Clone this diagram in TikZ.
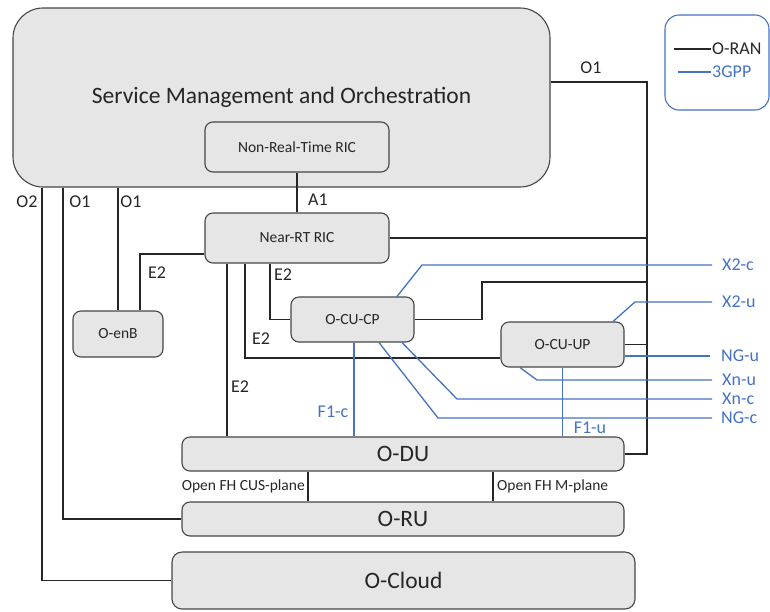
\documentclass[tikz,border=0pt]{standalone}
\usepackage{fontspec}
\setmainfont{Carlito}
\usetikzlibrary{positioning, calc}
\definecolor{boxgray}{RGB}{230, 230, 230}
\definecolor{edgegray}{RGB}{70, 70, 70}
\definecolor{gppblue}{RGB}{68, 114, 196}
\definecolor{textgray}{RGB}{38, 38, 38}

\tikzset{
  unit/.style={draw=edgegray, fill=boxgray, line width=1.1pt, rounded corners=8pt, text=textgray, inner sep=0pt, font=\fontsize{15.5}{18}\selectfont},
  bigunit/.style={unit, font=\fontsize{23.5}{28}\selectfont},
  oran/.style={draw=black!85, line width=1.7pt},
  gpp/.style={draw=gppblue, line width=1.3pt},
  ifname/.style={text=textgray, inner sep=1pt, font=\fontsize{18}{21}\selectfont},
  gppname/.style={ifname, text=gppblue},
  fhname/.style={ifname, font=\fontsize{15.5}{18}\selectfont},
}

\begin{document}
\begin{tikzpicture}[x=1pt, y=-1pt]
  \useasboundingbox (0,0) rectangle (770,611);

  % SMO with the non-RT RIC inside
  \node[bigunit, rounded corners=30pt, minimum width=537pt, minimum height=179pt] (smo) at (281.5,97.5) {Service Management and Orchestration};
  \node[unit, minimum width=184pt, minimum height=50pt] (nonrt) at (297,147) {Non-Real-Time RIC};

  % RAN nodes
  \node[unit, minimum width=184pt, minimum height=50pt] (nearrt) at (297,238) {Near-RT RIC};
  \node[unit, minimum width=90pt, minimum height=46pt] (oenb) at (118,334) {O-enB};
  \node[unit, minimum width=123pt, minimum height=45pt] (cucp) at (352.5,319.5) {O-CU-CP};
  \node[unit, minimum width=123pt, minimum height=45pt] (cuup) at (562.5,344.5) {O-CU-UP};
  \node[bigunit, minimum width=442pt, minimum height=34pt] (odu) at (403,454) {O-DU};
  \node[bigunit, minimum width=442pt, minimum height=34pt] (oru) at (403,519) {O-RU};
  \node[bigunit, rounded corners=10pt, minimum width=463pt, minimum height=57pt] (ocloud) at (403.5,580.5) {O-Cloud};

  % Legend
  \node[draw=gppblue, line width=1.1pt, rounded corners=14pt, minimum width=104pt, minimum height=95pt] (legend) at (717,62.5) {};
  \node[ifname, anchor=west] (lgoran) at (711,49) {O-RAN};
  \node[gppname, anchor=west] (lg3gpp) at (711,72) {3GPP};
  \draw[oran] (lgoran.west) -- ++(-37,0);
  \draw[gpp] (lg3gpp.west) -- ++(-33,0);

  % O1 bus on the right
  \coordinate (bus) at (647,82);
  \draw[oran] (smo.east |- bus) -- (bus) |- (odu.east);
  \draw[oran] (nearrt.east) -- (nearrt.east -| bus);
  \coordinate (cpbend) at (482,282);
  \draw[oran] (cucp.east) -| (cpbend) -- (cpbend -| bus);
  \draw[oran] (cuup.east) -- (cuup.east -| bus);
  \node[ifname] (lo1r) at (591,68) {O1};

  % A1
  \draw[oran] (nonrt.south) -- (nearrt.north);
  \node[ifname] (la1) at (318,200) {A1};

  % O1 / O2 on the left
  \coordinate (o2) at (42,0);
  \coordinate (o1a) at (63,0);
  \draw[oran] (smo.south -| o2) |- (ocloud.west);
  \draw[oran] (smo.south -| o1a) |- (oru.west);
  \draw[oran] (smo.south -| oenb.north) -- (oenb.north);
  \node[ifname] (lo2) at (27,202) {O2};
  \node[ifname] (lo1a) at (80,202) {O1};
  \node[ifname] (lo1b) at (131,202) {O1};

  % E2
  \coordinate (e2b) at (140,254);
  \draw[oran] (nearrt.west |- e2b) -| (oenb.north -| e2b);
  \coordinate (e2du) at (227,0);
  \draw[oran] (nearrt.south -| e2du) -- (odu.north -| e2du);
  \coordinate (e2up) at (245,358);
  \draw[oran] (nearrt.south -| e2up) |- (cuup.west |- e2up);
  \coordinate (e2cp) at (270,0);
  \draw[oran] (nearrt.south -| e2cp) |- (cucp.west);
  \node[ifname] (le2b) at (157,273) {E2};
  \node[ifname] (le2cp) at (283,275) {E2};
  \node[ifname] (le2up) at (261,339) {E2};
  \node[ifname] (le2du) at (240,387) {E2};

  % Open fronthaul
  \coordinate (fhcus) at (308,0);
  \coordinate (fhm) at (493,0);
  \draw[oran] (odu.south -| fhcus) -- (oru.north -| fhcus);
  \draw[oran] (odu.south -| fhm) -- (oru.north -| fhm);
  \node[fhname, anchor=east] (lfhcus) at (306,486) {Open FH CUS-plane};
  \node[fhname, anchor=west] (lfhm) at (496,486) {Open FH M-plane};

  % F1
  \coordinate (f1c) at (354,0);
  \draw[gpp] (cucp.south -| f1c) -- (odu.north -| f1c);
  \draw[gpp] (cuup.south) -- (odu.north -| cuup.south);
  \node[gppname] (lf1c) at (333,412) {F1-c};
  \node[gppname] (lf1u) at (590,428) {F1-u};

  % 3GPP interfaces to the right
  \node[gppname, anchor=west] (lx2c) at (721,265) {X2-c};
  \node[gppname, anchor=west] (lx2u) at (721,302) {X2-u};
  \node[gppname, anchor=west] (lngu) at (720,356) {NG-u};
  \node[gppname, anchor=west] (lxnu) at (721,380) {Xn-u};
  \node[gppname, anchor=west] (lxnc) at (721,399) {Xn-c};
  \node[gppname, anchor=west] (lngc) at (720,418) {NG-c};
  \coordinate (x2cbend) at (422,0);
  \coordinate (x2ubend) at (635,0);
  \coordinate (xnubend) at (537,0);
  \coordinate (xncbend) at (457,0);
  \coordinate (ngcbend) at (438,0);
  \draw[gpp] ([xshift=44.5pt]cucp.north) -- (x2cbend |- lx2c.west) -- ([xshift=-9pt]lx2c.west);
  \draw[gpp] ([xshift=50.5pt]cuup.north) -- (x2ubend |- lx2u.west) -- ([xshift=-9pt]lx2u.west);
  \draw[gpp] (cuup.east |- lngu.west) -- ([xshift=-10pt]lngu.west);
  \draw[gpp] ([xshift=-42.5pt]cuup.south) -- (xnubend |- lxnu.west) -- ([xshift=-9pt]lxnu.west);
  \draw[gpp] ([xshift=49.5pt]cucp.south) -- (xncbend |- lxnc.west) -- ([xshift=-9pt]lxnc.west);
  \draw[gpp] ([xshift=26.5pt]cucp.south) -- (ngcbend |- lngc.west) -- ([xshift=-8pt]lngc.west);
\end{tikzpicture}
\end{document}
